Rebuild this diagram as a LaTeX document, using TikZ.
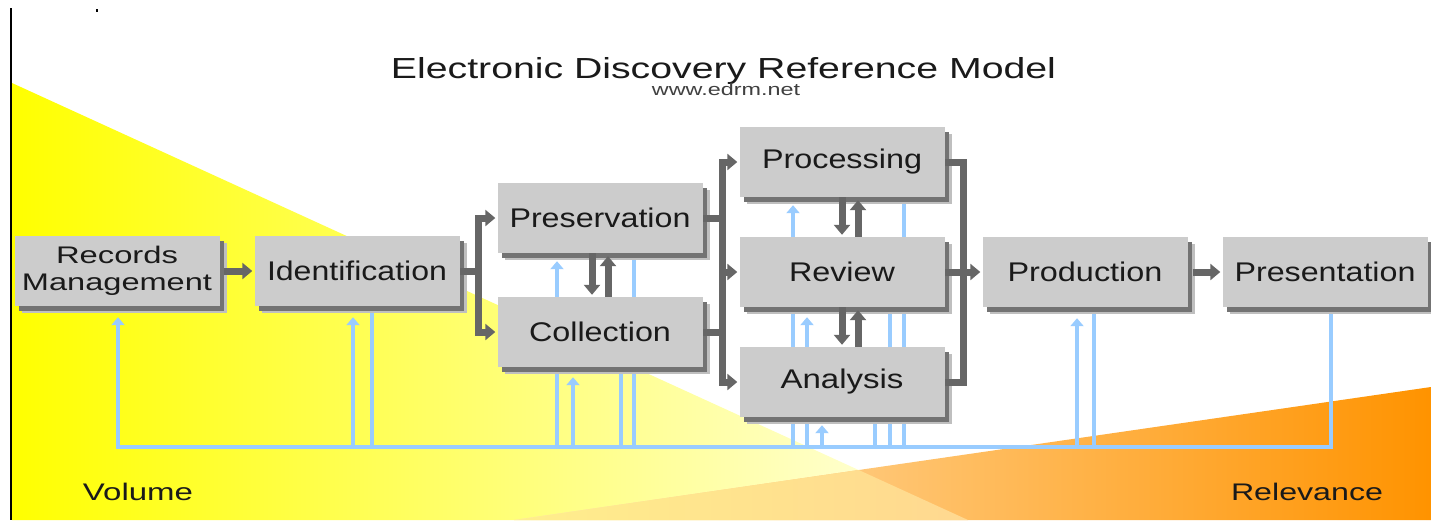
\documentclass[tikz,border=0pt]{standalone}
\usepackage{fontspec}
\setmainfont{Liberation Sans}
\usepackage{graphicx}
\usetikzlibrary{arrows.meta,shadows,calc}
\definecolor{boxgray}{HTML}{CCCCCC}
\definecolor{dgray}{HTML}{666666}
\definecolor{fbblue}{HTML}{99CCFF}
\definecolor{ylw}{HTML}{FFFF00}
\definecolor{ylwpale}{HTML}{FFFFE6}
\definecolor{orL}{HTML}{FFE6BE}
\definecolor{orM}{HTML}{FDC680}
\definecolor{orR}{HTML}{FF9300}
\definecolor{ovL}{HTML}{FFEE8C}
\definecolor{ovR}{HTML}{FFD890}
\definecolor{txt}{HTML}{1A1A1A}
\newcommand{\tw}[2]{\resizebox{#1pt}{\height}{#2}}
\pgfdeclarelayer{back}
\pgfdeclarelayer{bg}
\pgfsetlayers{back,bg,main}
\begin{document}
\begin{tikzpicture}[x=1pt,y=-1pt,
  stagebox/.style={fill=boxgray, minimum width=205pt, minimum height=70pt, inner sep=0pt,
    text=txt, font=\fontsize{27}{30}\selectfont,
    drop shadow={shadow xshift=7pt, shadow yshift=-7pt, fill=black!25, opacity=1},
    drop shadow={shadow xshift=4.5pt, shadow yshift=-4.5pt, fill=black!55, opacity=1}},
  fbl/.style={draw=fbblue, line width=4.5pt, line join=miter},
  fba/.style={fbl, -{Triangle[width=13pt,length=8pt]}},
  dline/.style={draw=dgray, line width=7pt, line join=miter, line cap=rect},
  darr/.style={draw=dgray, line width=7pt, line join=miter, line cap=butt, -{Triangle[width=16pt,length=10pt]}},
  lbl/.style={inner sep=0pt, anchor=base, text=txt}]

\useasboundingbox (0,0) rectangle (1431,520);

\begin{pgfonlayer}{back}
  \fill[white] (0,0) rectangle (1431,520);
  \shade[left color=ylw, right color=ylwpale] (12,83) -- (968,520) -- (12,520) -- cycle;
  \shade[left color=orL, middle color=orM, right color=orR] (1431,387) -- (1431,520) -- (514,520) -- cycle;
  \shade[left color=ovL, right color=ovR] (514,520) -- (858.7,470) -- (968,520) -- cycle;
  \draw[line width=2pt, black] (11,8) -- (11,520);
  \fill[black] (96,9) rectangle (98,12);
\end{pgfonlayer}

% title texts
\node[lbl, font=\fontsize{29}{32}\selectfont] (title) at (723.5,78) {\tw{665}{Electronic Discovery Reference Model}};
\node[lbl, font=\fontsize{17}{19}\selectfont, text=black!75] (url) at (726,95) {\tw{148}{www.edrm.net}};
\node[lbl, font=\fontsize{24}{26}\selectfont] (vol) at (138,500) {\tw{110}{Volume}};
\node[lbl, font=\fontsize{24}{26}\selectfont] (rel) at (1307,500) {\tw{152}{Relevance}};

% stages
\node[stagebox, align=center, font=\fontsize{24}{27}\selectfont] (rm) at (117,271) {\tw{122}{Records}\\\tw{190}{Management}};
\node[stagebox] (id)   at (357,271)  {\tw{180}{Identification}};
\node[stagebox] (pres) at (600,218)  {\tw{181}{Preservation}};
\node[stagebox] (coll) at (600,332)  {\tw{142}{Collection}};
\node[stagebox] (proc) at (842,162)  {\tw{160}{Processing}};
\node[stagebox] (rev)  at (842,272)  {\tw{106}{Review}};
\node[stagebox] (ana)  at (842,382)  {\tw{123}{Analysis}};
\node[stagebox] (prod) at (1085,272) {\tw{155}{Production}};
\node[stagebox] (prsn) at (1325,272) {\tw{181}{Presentation}};

% feedback (blue) lines
\coordinate (busL) at (118,447);
\begin{pgfonlayer}{bg}
  \draw[fba] ([xshift=6pt]prsn.south) |- (busL) -- ([yshift=-11pt]rm.south -| busL);
  % Identification
  \draw[fba] ([xshift=-4pt]id.south |- busL) -- ([xshift=-4pt,yshift=-11pt]id.south);
  \draw[fbl] ([xshift=15pt]id.south) -- ([xshift=15pt]id.south |- busL);
  % Preservation
  \draw[fba] ([xshift=-43pt]pres.south |- busL) -- ([xshift=-43pt,yshift=-8pt]pres.south);
  \draw[fbl] ([xshift=34pt]pres.south) -- ([xshift=34pt]pres.south |- busL);
  % Collection
  \draw[fba] ([xshift=-27pt]coll.south |- busL) -- ([xshift=-27pt,yshift=-10pt]coll.south);
  \draw[fbl] ([xshift=21pt]coll.south) -- ([xshift=21pt]coll.south |- busL);
  % Processing
  \draw[fba] ([xshift=-49pt]proc.south |- busL) -- ([xshift=-49pt,yshift=-8pt]proc.south);
  \draw[fbl] ([xshift=62pt]proc.south) -- ([xshift=62pt]proc.south |- busL);
  % Review
  \draw[fba] ([xshift=-35pt]rev.south |- busL) -- ([xshift=-35pt,yshift=-10pt]rev.south);
  \draw[fbl] ([xshift=48pt]rev.south) -- ([xshift=48pt]rev.south |- busL);
  % Analysis
  \draw[fba] ([xshift=-20pt]ana.south |- busL) -- ([xshift=-20pt,yshift=-8pt]ana.south);
  \draw[fbl] ([xshift=33pt]ana.south) -- ([xshift=33pt]ana.south |- busL);
  % Production
  \draw[fba] ([xshift=-8pt]prod.south |- busL) -- ([xshift=-8pt,yshift=-11pt]prod.south);
  \draw[fbl] ([xshift=9pt]prod.south) -- ([xshift=9pt]prod.south |- busL);
\end{pgfonlayer}

% process flow (dark grey)
\draw[darr] ([xshift=4pt]rm.east) -- ([xshift=-2pt]id.west);

\coordinate (b1) at (478,271);
\draw[dline] ([xshift=4pt]id.east) -- (b1);
\draw[dline] (pres.west -| b1) -- (coll.west -| b1);
\draw[darr] (pres.west -| b1) -- ([xshift=-2pt]pres.west);
\draw[darr] (coll.west -| b1) -- ([xshift=-2pt]coll.west);

\coordinate (b2) at (722,272);
\draw[dline] ([xshift=4pt]pres.east) -- (pres.east -| b2) -- (coll.east -| b2) -- ([xshift=4pt]coll.east);
\draw[dline] (proc.west -| b2) -- (ana.west -| b2);
\draw[darr] (proc.west -| b2) -- ([xshift=-2pt]proc.west);
\draw[darr] (rev.west -| b2) -- ([xshift=-2pt]rev.west);
\draw[darr] (ana.west -| b2) -- ([xshift=-2pt]ana.west);

\coordinate (b3) at (963,272);
\draw[dline] ([xshift=4pt]proc.east) -- (proc.east -| b3) -- (ana.east -| b3) -- ([xshift=4pt]ana.east);
\draw[dline] ([xshift=4pt]rev.east) -- (rev.east -| b3);
\draw[darr] (rev.east -| b3) -- ([xshift=-2pt]prod.west);
\draw[darr] ([xshift=5pt]prod.east) -- ([xshift=-2pt]prsn.west);

% two-way exchanges
\draw[darr] ([xshift=-8pt]pres.south) -- ([xshift=-8pt,yshift=2pt]coll.north);
\draw[darr] ([xshift=8pt]coll.north) -- ([xshift=8pt,yshift=-3pt]pres.south);
\draw[darr] (proc.south) -- ([yshift=2pt]rev.north);
\draw[darr] ([xshift=16pt]rev.north) -- ([xshift=16pt,yshift=-3pt]proc.south);
\draw[darr] (rev.south) -- ([yshift=2pt]ana.north);
\draw[darr] ([xshift=16pt]ana.north) -- ([xshift=16pt,yshift=-3pt]rev.south);

\end{tikzpicture}
\end{document}
